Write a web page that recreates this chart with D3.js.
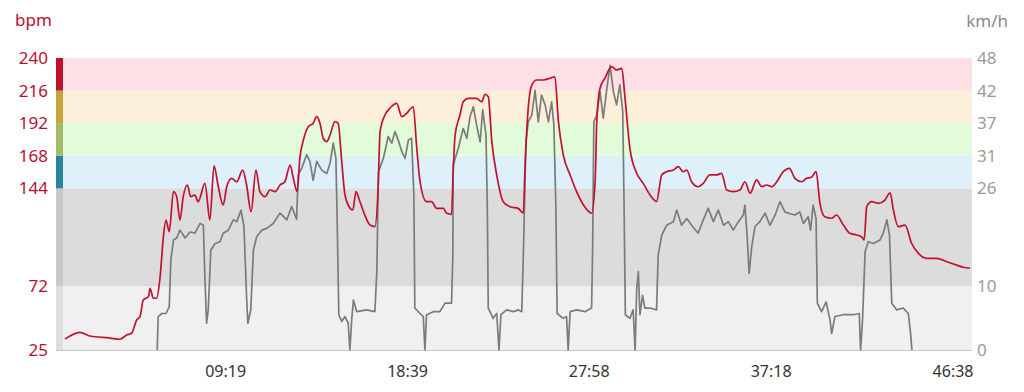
<!DOCTYPE html>
<html>
<head>
<meta charset="utf-8">
<script src="https://cdn.jsdelivr.net/npm/d3@7"></script>
<style>
  html, body { margin: 0; padding: 0; background: #fff; }
  svg { display: block; }
  text { font-family: "Noto Sans", "DejaVu Sans", sans-serif; }
</style>
</head>
<body>
<svg id="chart" width="1024" height="392"></svg>
<script>
// ---- data ----
const durationSec = 2798;
const timeTicks = [559, 1119, 1678, 2238, 2798];
const hrTicks = [25, 72, 144, 168, 192, 216, 240];
const speedMax = 48;
const zoneFills = ["#f0f0f0", "#dcdcdc", "#def0f9", "#e2fcd9", "#fdf0da", "#fde0e5"];
const zoneStrip = ["#dedede", "#c9c7c9", "#27869e", "#a3bc68", "#c6a63c", "#c20f2b"];

// heart rate [seconds, bpm]
const hrTime = [6,52,83,145,175,196,211,227,237,247,263,268,278,288,299,309,317,327,340,350,360,370,383,393,406,416,437,452,465,478,493,504,519,535,553,565,579,594,606,622,637,653,668,683,699,709,721,729,740,755,770,781,791,801,812,822,837,847,858,868,884,892,902,914,929,945,960,970,976,991,1006,1027,1043,1058,1078,1089,1099,1119,1135,1150,1171,1181,1196,1201,1207,1222,1232,1248,1273,1289,1299,1309,1320,1335,1355,1376,1401,1417,1422,1432,1443,1458,1478,1499,1514,1525,1540,1561,1581,1602,1627,1638,1643,1653,1668,1689,1704,1720,1730,1745,1766,1786,1807,1827,1843,1858,1879,1894,1909,1920,1935,1955,1971,1991,2012,2027,2043,2063,2084,2099,2115,2135,2151,2166,2181,2197,2217,2236,2253,2274,2289,2304,2318,2330,2345,2366,2381,2402,2422,2443,2458,2466,2474,2489,2510,2530,2546,2556,2571,2592,2612,2633,2658,2689,2720,2751,2771,2792];
const hrBpm = [33,38,35.3,33.8,32.9,36,37.3,47.1,49.5,61.8,64.2,70.4,63.1,63.1,79,108.4,120.7,112.1,141.6,137.9,120.7,137.9,146.5,137.9,139.1,134.2,147.7,120.7,160.5,145.2,131.8,145.2,151.4,148.9,157.5,146.5,126.8,157.5,141.6,137.9,142.8,141.6,146.5,148.9,161.2,151.4,141.6,166.1,179.6,189.4,191.9,196.8,191.9,180.9,178.4,183.3,193.1,191.9,163.6,139.1,129.3,128.1,141.6,134.2,124.4,117,115.8,144.1,185.7,198,203,206.6,196.8,199.3,204.1,173.5,148.9,134.2,134.2,129.3,129.3,125.7,124.9,156.3,183.3,198,207.8,210.3,210.3,207.8,213.3,211.5,178.4,153.9,134.2,130.5,129.3,125.7,158.8,203,220.1,223.8,223.8,225.1,226.2,193.1,168.6,153.9,141.6,131.8,125.7,148.9,193.1,217.7,225.1,233.6,231.2,232.4,210.3,173.5,155.1,147.7,139.1,134.2,153.9,156.3,157.5,160,156.3,157.5,148.9,145.2,147.7,153.9,153.9,155.1,142.8,141.6,142.8,148.9,140.4,150.2,145.2,146.5,145.2,148.9,156.3,158.8,151.4,148.9,151.4,152.2,156.3,133,123.1,122,124.4,117,110.9,109.7,108.4,106,130.5,134.2,133,135.4,140.8,128.1,115.8,117,103.6,96.2,92.5,92.5,90,87.5,85.9,85.2];

// speed [seconds, km/h]
const spTime = [290,293,304,317,327,332,340,350,360,376,391,406,422,432,437,442,447,455,468,483,493,509,524,535,548,557,565,569,578,586,596,612,627,647,668,689,704,719,724,735,750,760,770,781,796,812,822,832,840,844,849,858,868,878,883,889,894,904,935,960,966,971,986,1001,1012,1022,1032,1043,1053,1063,1073,1080,1083,1099,1109,1114,1119,1140,1160,1176,1196,1200,1201,1217,1232,1243,1253,1263,1273,1284,1292,1302,1306,1309,1324,1335,1342,1348,1366,1386,1401,1412,1417,1425,1432,1443,1453,1463,1473,1484,1494,1504,1511,1517,1521,1540,1550,1555,1561,1581,1607,1627,1630,1634,1643,1653,1663,1674,1684,1694,1704,1714,1723,1727,1731,1745,1755,1761,1766,1771,1776,1784,1791,1807,1827,1832,1843,1858,1879,1889,1904,1920,1935,1955,1971,1986,2002,2017,2033,2048,2063,2079,2094,2099,2106,2112,2120,2130,2145,2161,2176,2192,2207,2222,2238,2253,2268,2279,2294,2301,2309,2318,2322,2335,2349,2361,2366,2376,2402,2433,2451,2455,2461,2469,2479,2494,2515,2525,2536,2544,2551,2566,2586,2602,2609,2613];
const spKmh = [0,5.5,6,6,7.1,14.8,18.1,18.4,19.7,18.4,19.4,19.2,20.8,20.5,11.5,4.4,6.6,16.4,17.5,17.8,19.2,19.7,21.4,21.1,23,20.3,8.8,4.4,6.6,16.4,18.6,19.7,20,20.8,22.5,21.4,23.6,21.5,28.8,29.9,32.1,31,27.9,31,29.6,29,30.7,34,31.5,21.1,5.8,4.7,5.5,4.4,0,5.2,8.2,6.3,6.6,6.3,12.9,29.3,31.5,35.1,34,35.9,34.5,32.6,31.5,34.5,34.8,25.5,6.9,6,5.5,0,5.8,6.3,6.3,7.7,7.7,15.6,30.4,33.2,36.4,34.8,38.4,40,37,34.2,39.5,35.3,23.8,6.9,5.2,6,0,5.8,6.6,6.3,6.6,6.3,15.6,34.2,37.5,38.6,42.7,37.5,41.9,40.3,37.5,40.8,37,23.8,6,5.2,5.5,0,6.3,6.6,6.3,6.9,15.6,37.5,38.6,42.5,38.1,43,46.8,42.5,40.3,43.6,39.2,23.8,5.8,5.2,6.6,0,10.1,12.9,5.8,9,6.9,6.9,6.6,15.6,18.9,20.5,21.1,23,20.5,21.6,20.5,19.2,21.4,23.3,21.1,23,20.5,21.1,19.7,21.1,22.2,23.8,18.6,12.6,17,20.3,21.1,22.5,20.5,22.2,24.4,22.7,22.4,22.2,22.7,20.8,21.9,19.7,23.8,21.6,7.7,6.3,7.9,4.9,2.7,5.5,5.8,5.8,6,0,4.9,16.2,17.8,17.5,18.1,19.2,21.4,18.9,7.7,6.6,6.9,6,2.7,0];

// ---- layout ----
const svg = d3.select("#chart");
const L = 63, R = 972, T = 58, B = 350;
const x = d3.scaleLinear().domain([0, durationSec]).range([L, R]);
const yHr = d3.scaleLinear().domain([25, 240]).range([B, T]);
const ySp = d3.scaleLinear().domain([0, speedMax]).range([B, T]);

// zone bands
const zones = d3.range(hrTicks.length - 1).map(i => ({lo: hrTicks[i], hi: hrTicks[i + 1], fill: zoneFills[i], strip: zoneStrip[i]}));
svg.append("g").selectAll("rect").data(zones).join("rect")
  .attr("x", L).attr("width", R - L)
  .attr("y", d => yHr(d.hi)).attr("height", d => yHr(d.lo) - yHr(d.hi))
  .attr("fill", d => d.fill);
svg.append("g").selectAll("rect").data(zones).join("rect")
  .attr("x", 56).attr("width", L - 56)
  .attr("y", d => yHr(d.hi)).attr("height", d => yHr(d.lo) - yHr(d.hi))
  .attr("fill", d => d.strip);

// baseline
svg.append("line").attr("x1", 56).attr("x2", R).attr("y1", B + 0.5).attr("y2", B + 0.5)
  .attr("stroke", "#c8c8c8").attr("stroke-width", 1);

// lines
const hrData = hrTime.map((t, i) => [t, hrBpm[i]]);
const spData = spTime.map((t, i) => [t, spKmh[i]]);
svg.append("path").datum(spData)
  .attr("fill", "none").attr("stroke", "#7b7b7b").attr("stroke-width", 1.7).attr("stroke-linejoin", "round")
  .attr("d", d3.line().x(d => x(d[0])).y(d => ySp(d[1])));
svg.append("path").datum(hrData)
  .attr("fill", "none").attr("stroke", "#c3112f").attr("stroke-width", 1.7).attr("stroke-linejoin", "round")
  .attr("d", d3.line().x(d => x(d[0])).y(d => yHr(d[1])).curve(d3.curveMonotoneX));

// left axis
const gl = svg.append("g").attr("transform", `translate(${48},0)`)
  .call(d3.axisLeft(yHr).tickValues(hrTicks).tickSize(0).tickPadding(0));
gl.select(".domain").remove();
gl.selectAll("text").attr("fill", "#b5102f").attr("font-size", 17);

// right axis: speed labels at zone boundaries
const spTickVals = hrTicks.map(b => ySp.invert(yHr(b)));
const gr = svg.append("g").attr("transform", `translate(${977},0)`)
  .call(d3.axisRight(ySp).tickValues(spTickVals).tickFormat(v => Math.floor(v + 1e-6)).tickSize(0).tickPadding(0));
gr.select(".domain").remove();
gr.selectAll("text").attr("fill", "#9a9a9a").attr("font-size", 17);

// bottom axis
const fmt = s => String(Math.floor(s / 60)).padStart(2, "0") + ":" + String(s % 60).padStart(2, "0");
const gb = svg.append("g").attr("transform", `translate(0,${366})`)
  .call(d3.axisBottom(x).tickValues(timeTicks).tickFormat(fmt).tickSize(0).tickPadding(0));
gb.select(".domain").remove();
gb.selectAll("text").attr("fill", "#333").attr("font-size", 16).attr("text-anchor", "end").attr("dx", "1");

// unit titles
svg.append("text").attr("x", 15).attr("y", 26).attr("fill", "#b5102f").attr("font-size", 17).text("bpm");
svg.append("text").attr("x", 1008).attr("y", 27).attr("fill", "#8a8a8a").attr("font-size", 17).attr("text-anchor", "end").text("km/h");
</script>
</body>
</html>
